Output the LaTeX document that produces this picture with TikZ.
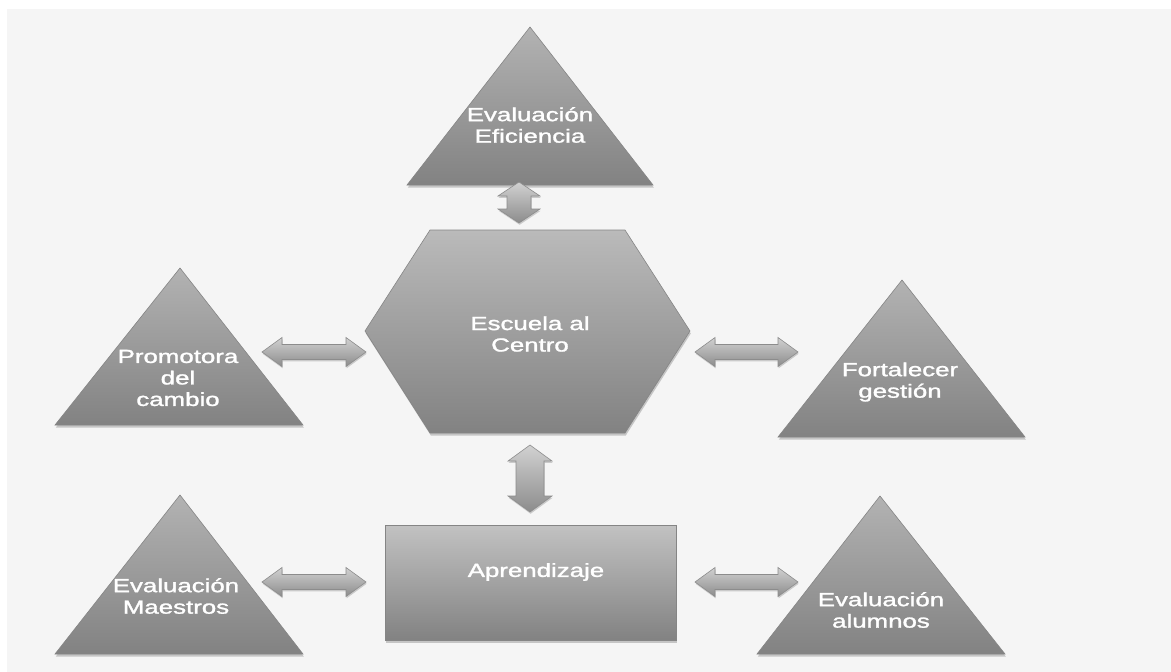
\documentclass[tikz,border=0pt]{standalone}
\usepackage{fontspec}
\setmainfont{Liberation Sans}
\newfontfamily\lblfont{Liberation Sans}[FakeBold=1.3]
\usetikzlibrary{shadows,calc}
\definecolor{canvas}{HTML}{F5F5F5}
\definecolor{edge}{HTML}{858585}
\definecolor{arrowedge}{HTML}{8C8C8C}

% double block arrows between two named tips
\newcommand\harrow[5]{% left tip, right tip, head length, head half height, shaft half height
  \path[blockarrow] (#1) -- ($(#1)+(#3,-#4)$) -- ($(#1)+(#3,-#5)$) -- ($(#2)+(-#3,-#5)$)
    -- ($(#2)+(-#3,-#4)$) -- (#2) -- ($(#2)+(-#3,#4)$) -- ($(#2)+(-#3,#5)$)
    -- ($(#1)+(#3,#5)$) -- ($(#1)+(#3,#4)$) -- cycle;}
\newcommand\varrow[5]{% top tip, bottom tip, head length, head half width, shaft half width
  \path[blockarrow] (#1) -- ($(#1)+(#4,#3)$) -- ($(#1)+(#5,#3)$) -- ($(#2)+(#5,-#3)$)
    -- ($(#2)+(#4,-#3)$) -- (#2) -- ($(#2)+(-#4,-#3)$) -- ($(#2)+(-#5,-#3)$)
    -- ($(#1)+(-#5,#3)$) -- ($(#1)+(-#4,#3)$) -- cycle;}

\begin{document}
\begin{tikzpicture}[x=1pt,y=-1pt,
  shape3d/.style={draw=edge, line width=0.6pt, top color=#1, bottom color=black!49,
    drop shadow={shadow xshift=0.8pt, shadow yshift=-2.5pt, opacity=.28, fill=black!70}},
  shape3d/.default={black!30},
  blockarrow/.style={draw=arrowedge, line width=0.6pt, top color=black!18, bottom color=black!45,
    drop shadow={shadow xshift=0.6pt, shadow yshift=-1.8pt, opacity=.25, fill=black!70}},
  label/.style={text=white, align=center, inner sep=0pt, xscale=1.36, transform shape,
    font=\lblfont\fontsize{19}{21.5}\selectfont}]
\useasboundingbox (0,0) rectangle (1171,672);
\fill[white] (0,0) rectangle (1171,672);
\fill[canvas] (7,9) rectangle (1171,672);

% triangles
\path[shape3d=black!30] (530,27) -- (653,185) -- (407,185) -- cycle;
\path[shape3d=black!30] (180,268) -- (303,425) -- (55,425) -- cycle;
\path[shape3d=black!30] (902,280) -- (1025,437) -- (778,437) -- cycle;
\path[shape3d=black!30] (180,495) -- (303,654) -- (55,654) -- cycle;
\path[shape3d=black!30] (880,496) -- (1005,654) -- (757,654) -- cycle;

% central hexagon
\path[shape3d=black!27] (430,230) -- (625,230) -- (690,331) -- (625,433) -- (430,433) -- (365,331) -- cycle;

% lower rectangle
\path[shape3d=black!24] (385,525) rectangle (676,640);

% labels
\node[label] (eficiencia) at (530,125) {Evaluación\\Eficiencia};
\node[label] (centro) at (530,334) {Escuela al\\Centro};
\node[label] (promotora) at (178,378) {Promotora\\del\\cambio};
\node[label] (gestion) at (900,382) {Fortalecer\\gestión};
\node[label] (aprendizaje) at (536,572) {Aprendizaje};
\node[label] (maestros) at (176,596) {Evaluación\\Maestros};
\node[label] (alumnos) at (881,610) {Evaluación\\alumnos};

% arrow tips
\coordinate (t1) at (519,182);  \coordinate (t2) at (519,223);
\coordinate (m1) at (530,445);  \coordinate (m2) at (530,512);
\coordinate (l1) at (262,352);  \coordinate (l2) at (366,352);
\coordinate (r1) at (695,352);  \coordinate (r2) at (798,352);
\coordinate (bl1) at (262,582); \coordinate (bl2) at (366,582);
\coordinate (br1) at (695,582); \coordinate (br2) at (798,582);

% connectors
\varrow{t1}{t2}{14}{21}{12}
\varrow{m1}{m2}{16}{22}{14}
\harrow{l1}{l2}{20}{14.5}{7.5}
\harrow{r1}{r2}{20}{14.5}{7.5}
\harrow{bl1}{bl2}{20}{14.5}{7.5}
\harrow{br1}{br2}{20}{14.5}{7.5}
\end{tikzpicture}
\end{document}
